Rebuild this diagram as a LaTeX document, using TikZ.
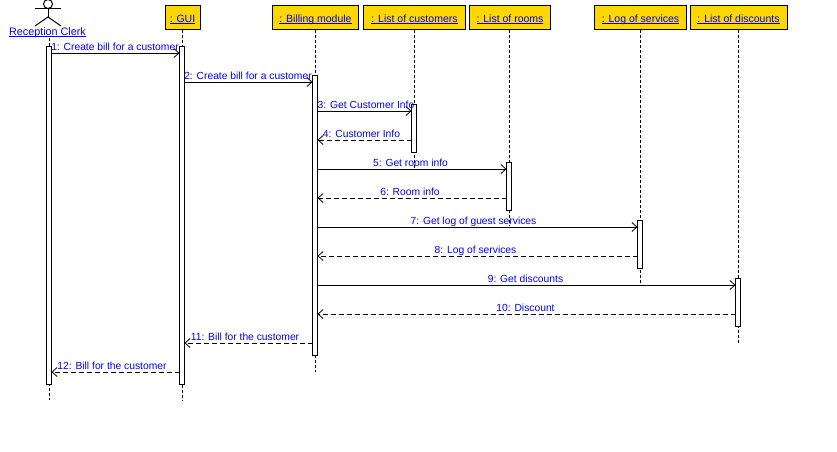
\documentclass[tikz,border=0pt]{standalone}
\usepackage{fontspec}
\setmainfont{Liberation Sans}
\usetikzlibrary{arrows.meta}
\definecolor{objfill}{RGB}{255,215,0}
\definecolor{lbl}{RGB}{0,0,255}
\newcommand\ulabel[1]{\setbox0\hbox{#1}\rlap{\rule[-1.8pt]{\wd0}{0.9pt}}\box0}
\tikzset{
  objbox/.style={draw=black,line width=1pt,fill=objfill,inner sep=0pt,outer sep=0pt,minimum height=24pt,text height=16.5pt,text depth=7.5pt,text=lbl,font=\fontsize{10.5}{13}\selectfont,anchor=north},
  actorname/.style={inner sep=0pt,outer sep=0pt,text=lbl,font=\fontsize{10.8}{13}\selectfont,anchor=base},
  actorline/.style={line width=1pt,black},
  life/.style={line width=1pt,dash pattern=on 3pt off 2pt,black},
  actbox/.style={draw=black,line width=1pt,fill=white,inner sep=0pt,outer sep=0pt,minimum width=5pt,anchor=north},
  call/.style={line width=1pt,black,-{Straight Barb[length=5pt,width=9pt,line width=0.8pt]}},
  reply/.style={line width=1pt,black,dash pattern=on 5pt off 3pt,-{Straight Barb[length=5pt,width=9pt,line width=0.8pt]}},
  msglabel/.style={inner sep=0pt,text=lbl,font=\fontsize{10.3}{13}\selectfont,anchor=base},
}
\begin{document}
\begin{tikzpicture}[x=1pt,y=-1pt]
\useasboundingbox (0,0) rectangle (837,451);
% actor
\draw[actorline] (48,4) circle (4.5);
\coordinate (head) at (48,8.5);
\coordinate (hip) at (48,17);
\draw[actorline] (head) -- (hip);
\draw[actorline] (35,8) -- (61,8);
\draw[actorline] (35,26) -- (hip) -- (61,26);
\node[actorname] (clerk) at (47.5,35) {\ulabel{Reception Clerk}};
% objects
\node[objbox,minimum width=35pt] (gui) at (182.5,5.5) {\ulabel{: GUI}};
\node[objbox,minimum width=86pt] (bill) at (315.5,5.5) {\ulabel{: Billing module}};
\node[objbox,minimum width=102pt] (cust) at (414.5,5.5) {\ulabel{: List of customers}};
\node[objbox,minimum width=81pt] (room) at (510,5.5) {\ulabel{: List of rooms}};
\node[objbox,minimum width=92pt] (serv) at (640.5,5.5) {\ulabel{: Log of services}};
\node[objbox,minimum width=97pt] (disc) at (738.5,5.5) {\ulabel{: List of discounts}};
% lifeline ends
\coordinate (clerkend) at (49,400);
\coordinate (guiend) at (182.5,400);
\coordinate (billend) at (315.5,372);
\coordinate (custend) at (414.5,168);
\coordinate (roomend) at (509,226);
\coordinate (servend) at (640.5,285);
\coordinate (discend) at (738.5,343);
\coordinate (clerktop) at (49,38);
\coordinate (roomtop) at (509,29.5);
\draw[life] (clerktop) -- (clerkend);
\draw[life] (gui.south) -- (guiend);
\draw[life] (bill.south) -- (billend);
\draw[life] (cust.south) -- (custend);
\draw[life] (roomtop) -- (roomend);
\draw[life] (serv.south) -- (servend);
\draw[life] (disc.south) -- (discend);
% activations
\node[actbox,minimum height=338pt] (aclerk) at (49,46.5) {};
\node[actbox,minimum height=338pt] (agui) at (182,46.5) {};
\node[actbox,minimum height=280pt] (abill) at (315,75.5) {};
\node[actbox,minimum height=48pt] (acust) at (414,104.5) {};
\node[actbox,minimum height=48pt] (aroom) at (509,162.5) {};
\node[actbox,minimum height=48pt] (aserv) at (640,220.5) {};
\node[actbox,minimum height=48pt] (adisc) at (738,278.5) {};
% messages
\foreach \n/\y in {1/53,2/82,3/111,4/140,5/169,6/198,7/227,8/256,9/285,10/314,11/343,12/372}
  \coordinate (m\n) at (0,\y);
\draw[call] (aclerk.east |- m1) -- (agui.west |- m1);
\draw[call] (agui.east |- m2) -- (abill.west |- m2);
\draw[call] (abill.east |- m3) -- (acust.west |- m3);
\draw[reply] (acust.west |- m4) -- (abill.east |- m4);
\draw[call] (abill.east |- m5) -- (aroom.west |- m5);
\draw[reply] (aroom.west |- m6) -- (abill.east |- m6);
\draw[call] (abill.east |- m7) -- (aserv.west |- m7);
\draw[reply] (aserv.west |- m8) -- (abill.east |- m8);
\draw[call] (abill.east |- m9) -- (adisc.west |- m9);
\draw[reply] (adisc.west |- m10) -- (abill.east |- m10);
\draw[reply] (abill.west |- m11) -- (agui.east |- m11);
\draw[reply] (agui.west |- m12) -- (aclerk.east |- m12);
% labels
\node[msglabel] (l1) at (115,50) {1: Create bill for a customer};
\node[msglabel] (l2) at (248,79) {2: Create bill for a customer};
\node[msglabel] (l3) at (366,108) {3: Get Customer Info};
\node[msglabel] (l4) at (361.5,137) {4: Customer Info};
\node[msglabel] (l5) at (410.5,166) {5: Get room info};
\node[msglabel] (l6) at (410,195) {6: Room info};
\node[msglabel] (l7) at (473.5,224) {7: Get log of guest services};
\node[msglabel] (l8) at (475.5,253) {8: Log of services};
\node[msglabel] (l9) at (525.5,282) {9: Get discounts};
\node[msglabel] (l10) at (525.5,311) {10: Discount};
\node[msglabel] (l11) at (245,340) {11: Bill for the customer};
\node[msglabel] (l12) at (112,369) {12: Bill for the customer};
\end{tikzpicture}
\end{document}
